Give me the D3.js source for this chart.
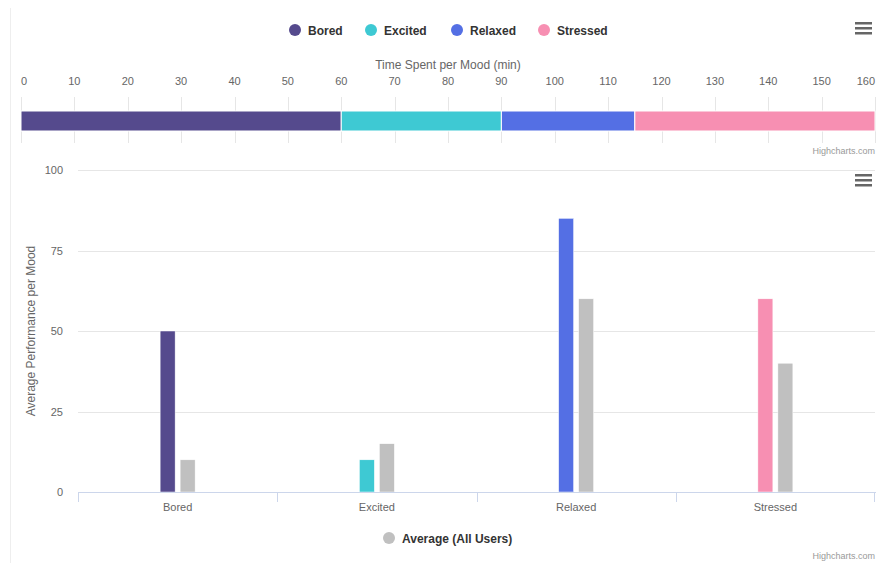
<!DOCTYPE html>
<html><head><meta charset="utf-8">
<script src="https://cdn.jsdelivr.net/npm/d3@7/dist/d3.min.js"></script>
<style>body{margin:0;background:#fff;font-family:"Liberation Sans",Arial,sans-serif}</style>
</head><body><svg id="c" width="876" height="563"></svg>
<script>
const moods = ["Bored","Excited","Relaxed","Stressed"];
const moodColors = ["#554a8d","#3ec9d3","#546fe4","#f78fb2"];
const timeSpent = [60,30,25,45];
const moodPerformance = [50,10,85,60];
const averagePerformance = [10,15,60,40];
const timeTicks = d3.range(0,161,10);
const perfTicks = [0,25,50,75,100];

const svg = d3.select("#c");
const font = '"Liberation Sans",Arial,sans-serif';
svg.append("line").attr("x1",10.5).attr("x2",10.5).attr("y1",8).attr("y2",563).attr("stroke","#eeeeee");

const legItems = [{x:295},{x:371},{x:457},{x:544}];
moods.forEach((m,i)=>{
  const g = svg.append("g").attr("transform",`translate(${legItems[i].x},30)`);
  g.append("circle").attr("r",6).attr("fill",moodColors[i]);
  g.append("text").attr("x",13).attr("y",4.5).text(m).attr("font-size",12).attr("font-weight","bold").attr("fill","#333").attr("font-family",font);
});
function menu(y){
  const g=svg.append("g");
  [0,5,10].forEach(d=>g.append("rect").attr("x",855).attr("y",y+d).attr("width",17).attr("height",2.5).attr("fill","#666"));
}
menu(22); menu(174);

const xT = d3.scaleLinear().domain([0,160]).range([21,875]);
svg.append("text").attr("x",448).attr("y",69).attr("text-anchor","middle").attr("font-size",12).attr("fill","#666").attr("font-family",font).text("Time Spent per Mood (min)");
timeTicks.forEach(t=>{
  svg.append("line").attr("x1",Math.round(xT(t))+0.5).attr("x2",Math.round(xT(t))+0.5).attr("y1",97).attr("y2",143).attr("stroke","#e6e6e6");
  svg.append("text").attr("x",t===160?875:xT(t)).attr("y",85).attr("text-anchor",t===0?"start":(t===160?"end":"middle")).attr("font-size",11).attr("fill","#666").attr("font-family",font).text(t);
});
let acc=0;
const stack = timeSpent.map(v=>{const s=acc; acc+=v; return [s,acc];});
svg.selectAll(".seg").data(stack).enter().append("rect")
  .attr("x",d=>xT(d[0])).attr("width",d=>xT(d[1])-xT(d[0])).attr("y",111).attr("height",20)
  .attr("fill",(d,i)=>moodColors[i]).attr("stroke","#fff").attr("stroke-width",1);
svg.append("text").attr("x",875).attr("y",154).attr("text-anchor","end").attr("font-size",9).attr("fill","#999").attr("font-family",font).text("Highcharts.com");

const y = d3.scaleLinear().domain([0,100]).range([492,170]);
const x0 = d3.scaleBand().domain(moods).range([78,875]);
perfTicks.forEach(t=>{
  if(t>0) svg.append("line").attr("x1",78).attr("x2",875).attr("y1",Math.round(y(t))+0.5).attr("y2",Math.round(y(t))+0.5).attr("stroke","#e6e6e6");
  svg.append("text").attr("x",63).attr("y",y(t)+4).attr("text-anchor","end").attr("font-size",11).attr("fill","#666").attr("font-family",font).text(t);
});
svg.append("text").attr("transform","translate(35,331) rotate(-90)").attr("text-anchor","middle").attr("font-size",12).attr("fill","#666").attr("font-family",font).text("Average Performance per Mood");
const bw=15;
moods.forEach((m,i)=>{
  const c = x0(m)+x0.bandwidth()/2;
  svg.append("rect").attr("x",c-17.5).attr("width",bw).attr("y",y(moodPerformance[i])).attr("height",y(0)-y(moodPerformance[i])).attr("fill",moodColors[i]).attr("stroke","#fff").attr("stroke-width",0.5);
  svg.append("rect").attr("x",c+2.5).attr("width",bw).attr("y",y(averagePerformance[i])).attr("height",y(0)-y(averagePerformance[i])).attr("fill","#c0c0c0").attr("stroke","#fff").attr("stroke-width",0.5);
  svg.append("text").attr("x",c).attr("y",511).attr("text-anchor","middle").attr("font-size",11).attr("fill","#666").attr("font-family",font).text(m);
});
svg.append("line").attr("x1",78).attr("x2",876).attr("y1",492.5).attr("y2",492.5).attr("stroke","#ccd6eb");
d3.range(5).forEach(i=>{
  const xx = Math.round(78+i*x0.bandwidth())+(i===4?-0.5:0.5);
  svg.append("line").attr("x1",xx).attr("x2",xx).attr("y1",492).attr("y2",502).attr("stroke","#ccd6eb");
});
const lg = svg.append("g").attr("transform","translate(389,538)");
lg.append("circle").attr("r",6).attr("fill","#c0c0c0");
lg.append("text").attr("x",13).attr("y",4.5).attr("font-size",12).attr("font-weight","bold").attr("fill","#333").attr("font-family",font).text("Average (All Users)");
svg.append("text").attr("x",875).attr("y",559).attr("text-anchor","end").attr("font-size",9).attr("fill","#999").attr("font-family",font).text("Highcharts.com");
</script></body></html>
